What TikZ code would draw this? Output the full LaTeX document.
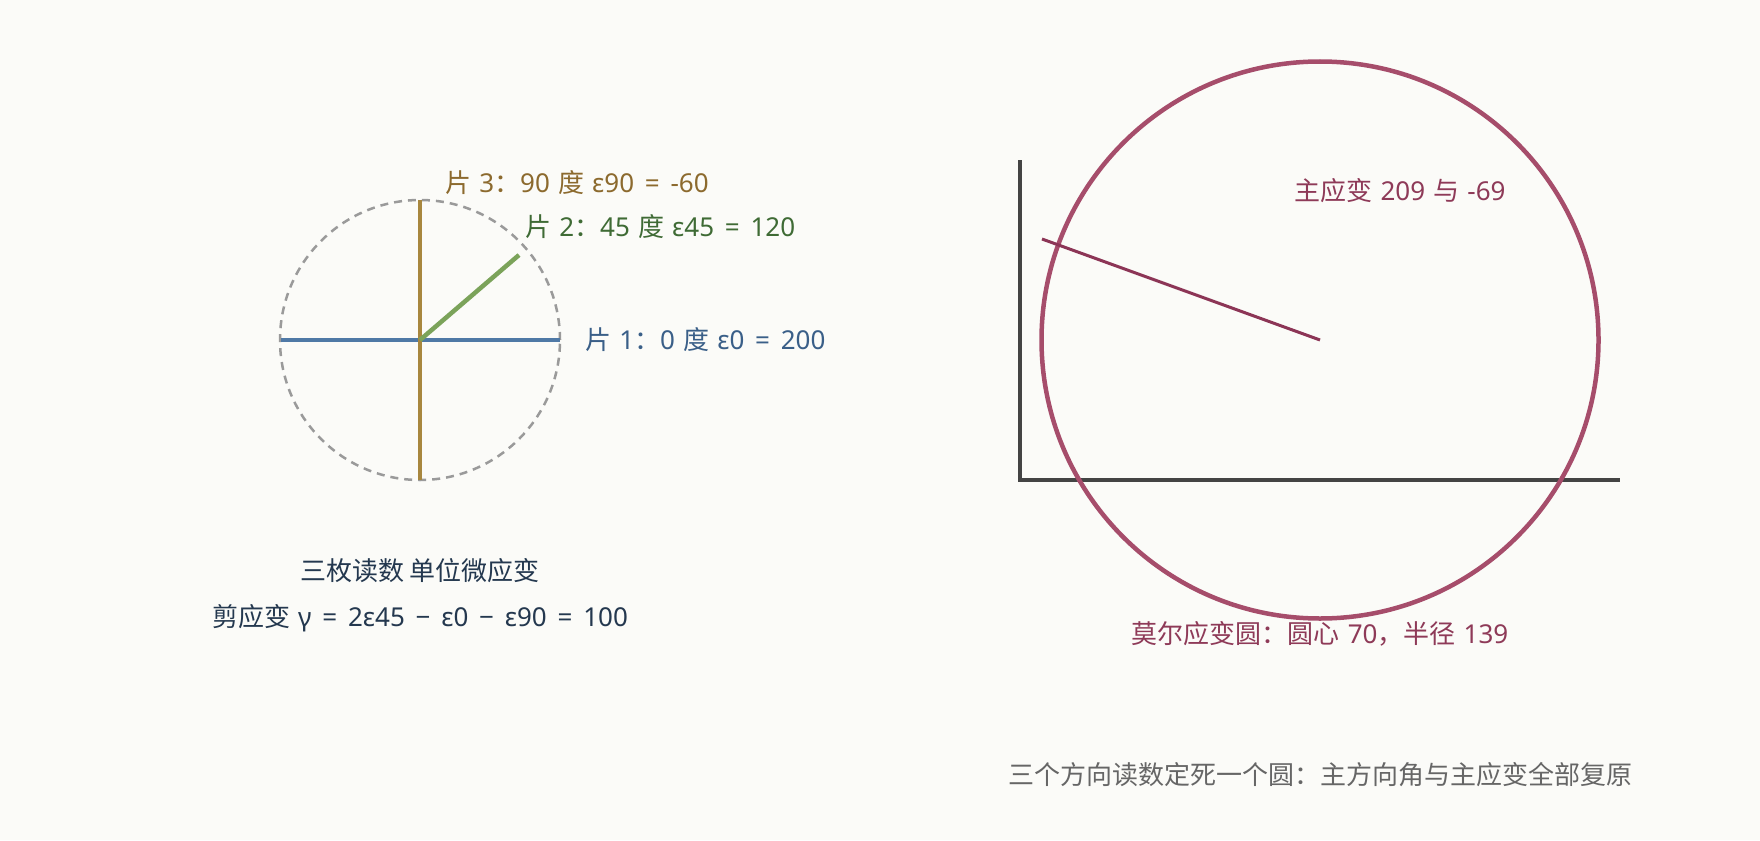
\documentclass[tikz,border=0pt]{standalone}
\usepackage{fontspec}
\setmainfont{Noto Sans}[WordSpace=1.2]
\newfontfamily\cjk{Noto Sans CJK SC}
\newcommand{\cj}[1]{{\cjk #1}}
\newcommand{\ws}{\hspace{0.415em}}
\definecolor{bgc}{HTML}{FBFBF8}
\definecolor{blueline}{HTML}{4F79A6}
\definecolor{bluetext}{HTML}{3A5F88}
\definecolor{goldline}{HTML}{A8873E}
\definecolor{goldtext}{HTML}{8C6A2E}
\definecolor{greenline}{HTML}{7BA35A}
\definecolor{greentext}{HTML}{3F6B35}
\definecolor{dashgray}{HTML}{9A9A9A}
\definecolor{navytext}{HTML}{24384F}
\definecolor{mohrc}{HTML}{A64D6B}
\definecolor{mohrl}{HTML}{8C3556}
\definecolor{mohrt}{HTML}{8E3A58}
\definecolor{axisc}{HTML}{444444}
\definecolor{notec}{HTML}{666666}
\begin{document}
\begin{tikzpicture}[x=1pt,y=-1pt,
  lbl/.style={inner sep=0pt,font=\fontsize{26}{30}\selectfont},
  gaugeline/.style={line width=4.5pt},
]
\fill[bgc] (0,0) rectangle (1760,840);
\useasboundingbox (0,0) rectangle (1760,840);

% ---- strain rosette ----
\coordinate (c) at (420,340);
\node[circle,draw=dashgray,line width=2.5pt,dash pattern=on 8pt off 6pt,minimum size=280pt,inner sep=0pt] (ring) at (c) {};
\coordinate (bl) at (281,340);
\coordinate (br) at (560,340);
\coordinate (gt) at (420,200);
\coordinate (gb) at (420,480);
\coordinate (ge) at (519,255);
\draw[gaugeline,blueline] (bl) -- (br);
\draw[gaugeline,goldline] (gt) -- (gb);
\draw[gaugeline,greenline] (c) -- (ge);

\node[lbl,anchor=west,text=goldtext] (l3) at (445,183) {\cj{片} 3\cj{：}90 \cj{度} ε90\ws{}=\ws{}-60};
\node[lbl,anchor=west,text=greentext] (l2) at (525,227) {\cj{片} 2\cj{：}45 \cj{度} ε45\ws{}=\ws{}120};
\node[lbl,anchor=west,text=bluetext] (l1) at (585,340) {\cj{片} 1\cj{：}0 \cj{度} ε0\ws{}=\ws{}200};

\node[lbl,text=navytext] (t1) at (420,571) {\cj{三枚读数 单位微应变}};
\node[lbl,text=navytext] (t2) at (420,618) {\cj{剪应变} γ\ws{}=\ws{}2ε45\ws{}−\ws{}ε0\ws{}−\ws{}ε90\ws{}=\ws{}100};

% ---- Mohr circle ----
\coordinate (ax0) at (1020,480);
\coordinate (axy) at (1020,160);
\coordinate (axx) at (1620,480);
\draw[axisc,line width=3.5pt] (axy) -- (ax0) -- (axx);
\coordinate (mc) at (1320,340);
\node[circle,draw=mohrc,line width=4.5pt,minimum size=557pt,inner sep=0pt] (mohr) at (mc) {};
\coordinate (me) at (1042,239);
\draw[mohrl,line width=3pt] (mc) -- (me);
\node[lbl,text=mohrt] (pr) at (1400,191) {\cj{主应变} 209 \cj{与} -69};
\node[lbl,text=mohrt] (mcap) at (1320,634) {\cj{莫尔应变圆：圆心} 70\cj{，半径} 139};
\node[lbl,text=notec] (note) at (1320,775) {\cj{三个方向读数定死一个圆：主方向角与主应变全部复原}};
\end{tikzpicture}
\end{document}
